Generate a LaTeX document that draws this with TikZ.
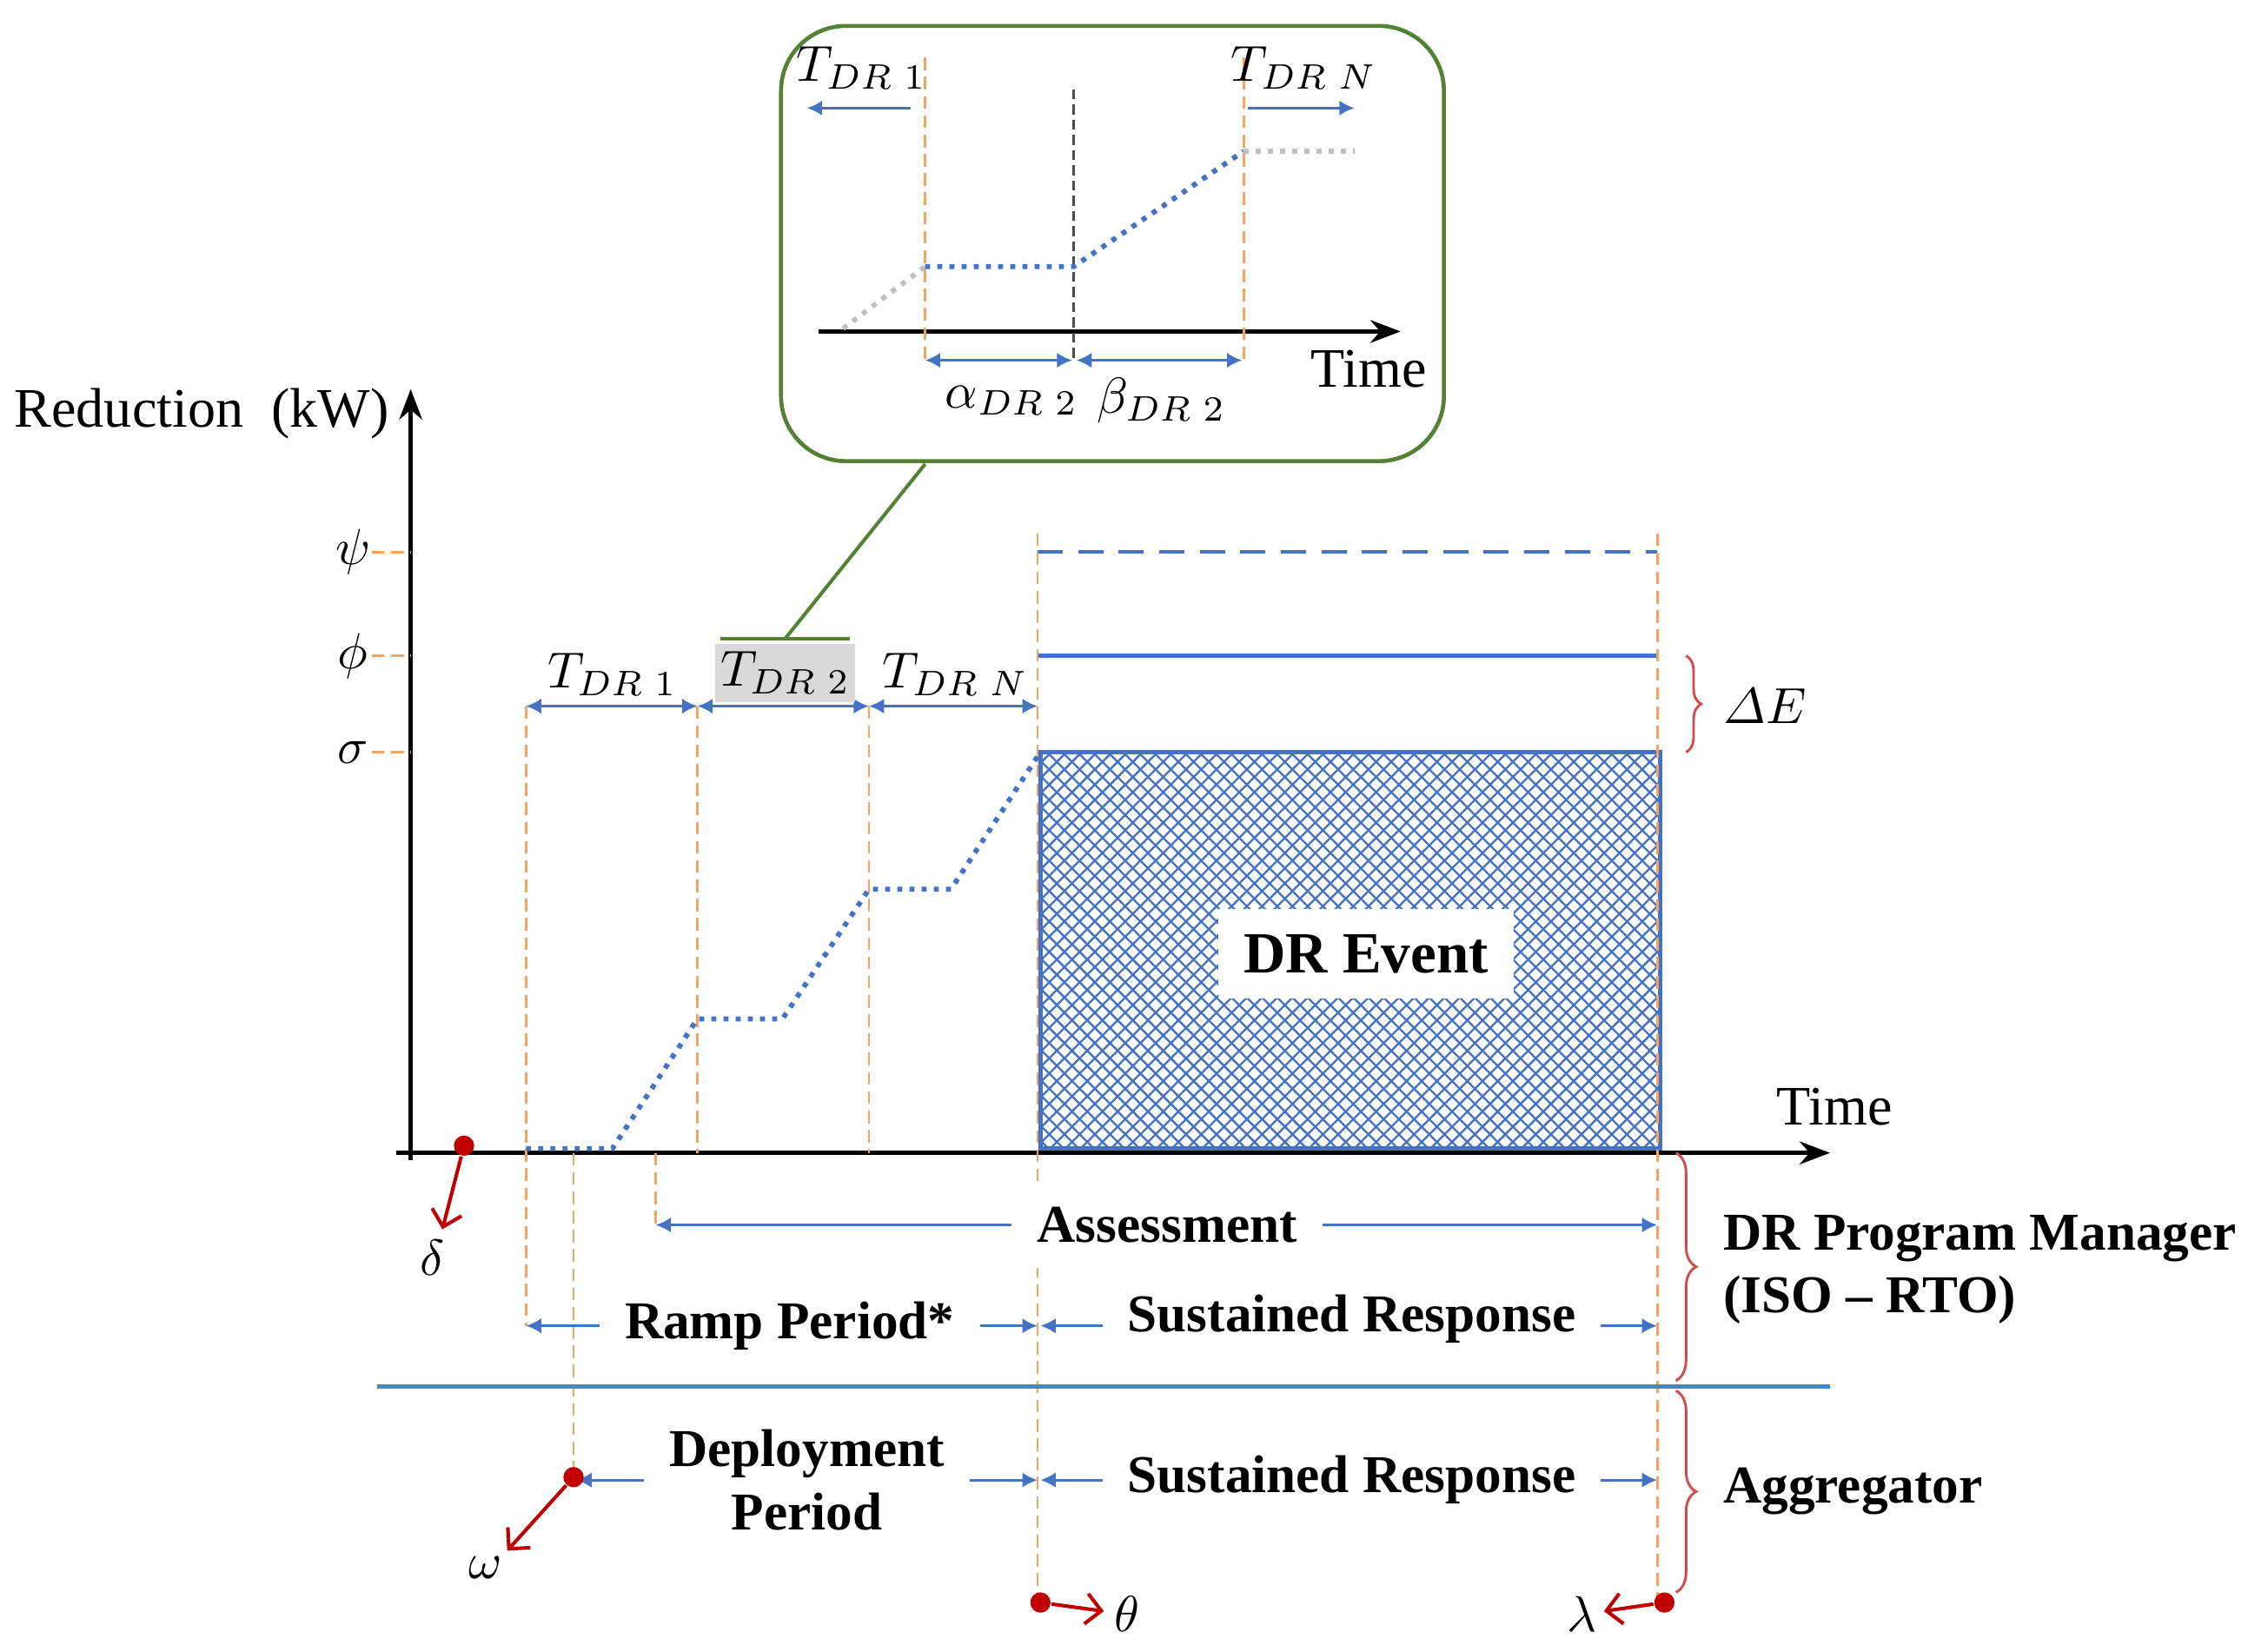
\documentclass[tikz,border=0pt]{standalone}
\usepackage{amsmath}
\usepackage{fontspec}
\setmainfont{Liberation Serif}
\usetikzlibrary{arrows.meta,patterns,decorations.pathreplacing}
\definecolor{bl}{HTML}{4472C4}
\definecolor{dr}{HTML}{C00000}
\definecolor{og}{HTML}{F4A460}
\definecolor{gr}{HTML}{548235}
\tikzset{
 ax/.style={line width=0.9pt,-{Stealth[length=6pt,width=4.5pt]}},
 od/.style={og,line width=0.5pt,dash pattern=on 2.5pt off 1.3pt},
 dim/.style={bl,line width=0.5pt,{Latex[length=3pt,width=3pt]}-{Latex[length=3pt,width=3pt]}},
 ra/.style={bl,line width=0.5pt,-{Latex[length=3pt,width=3pt]}},
 rd/.style={dr,line width=0.7pt,-{Straight Barb[length=3pt]}},
 dot/.style={circle,fill=dr,inner sep=0pt,minimum size=4pt},
 bt/.style={font=\fontsize{10.5}{12.5}\selectfont\bfseries,fill=white,inner sep=1.5pt,align=center},
 mt/.style={font=\fontsize{10}{12}\selectfont,inner sep=1pt},
 bdot/.style={bl,line width=1pt,dash pattern=on 1pt off 1.4pt},
 gdot/.style={gray!50,line width=1pt,dash pattern=on 1pt off 1.4pt},
}
\begin{document}
\begin{tikzpicture}[x=0.01cm,y=-0.01cm]
\useasboundingbox (0,0) rectangle (1560,1146);
% main axes
\draw[ax] (285,805) -- (285,270);
\draw[ax] (275,800) -- (1270,800);
\node[mt,font=\fontsize{11}{13}\selectfont] (yl) at (140,287) {Reduction\ \ (kW)};
\node[mt,font=\fontsize{11}{13}\selectfont] (tx) at (1273,768) {Time};
% ticks
\foreach \y/\n/\l in {383/psi/\psi,455/phi/\phi,522/sig/\sigma}{
 \draw[od] (258,\y) -- (285,\y);
 \node[mt] (\n) at (245,\y) {$\l$};
}
% hatched event
\draw[bl,line width=0.8pt,pattern=crosshatch,pattern color=bl] (722,522) rectangle (1152,797);
\node[bt,font=\fontsize{11.5}{13}\selectfont\bfseries,inner sep=5pt] (ev) at (948,662) {DR Event};
\draw[bl,line width=0.8pt,dash pattern=on 5pt off 3pt] (720,383) -- (1150,383);
\draw[bl,line width=0.8pt] (720,455) -- (1150,455);
% verticals
\draw[od] (365,490) -- (365,920);
\draw[od] (484,490) -- (484,800);
\draw[od] (603,490) -- (603,800);
\draw[od] (720,370) -- (720,1110);
\draw[od] (1150,370) -- (1150,1110);
\draw[od] (398,800) -- (398,1025);
\draw[od] (455,800) -- (455,850);
% ramp
\draw[bdot] (365,797)--(425,797)--(484,707)--(543,707)--(603,617)--(660,617)--(720,525);
% T arrows
\coordinate (a1) at (365,490); \coordinate (a2) at (484,490);
\coordinate (a3) at (603,490); \coordinate (a4) at (720,490);
\draw[dim] (a1)--(a2); \draw[dim] (a2)--(a3); \draw[dim] (a3)--(a4);
\node[mt] (t1) at (425,468) {$T_{DR\ 1}$};
\node[mt,fill=gray!30,minimum width=0.85cm,minimum height=0.4cm] (t2) at (545,467) {$T_{DR\ 2}$};
\node[mt] (tn) at (663,468) {$T_{DR\ N}$};
\draw[gr,line width=0.7pt] (500,443) -- (590,443);
\coordinate (g0) at (545,443);
\coordinate (g1) at (642,322);
\draw[gr,line width=0.7pt] (g0) -- (g1);
% brace dE
\draw[dr!70,line width=0.5pt,decorate,decoration={brace,amplitude=3pt}] (1170,455) -- (1170,522);
\node[mt] (de) at (1225,490) {$\varDelta E$};
% delta
\node[dot] (dd) at (322,795) {};
\coordinate (de1) at (307,853);
\draw[rd] (dd) -- (de1);
\node[mt] (dl) at (300,873) {$\delta$};
% assessment
\coordinate (as1) at (455,850); \coordinate (as2) at (1150,850);
\draw[dim] (as1) -- (as2);
\node[bt,inner sep=5pt] (as) at (810,850) {Assessment};
% ramp period
\coordinate (r1) at (365,920); \coordinate (r2) at (720,920);
\draw[dim] (r1) -- (r2);
\node[bt,inner sep=5pt] (rp) at (548,920) {Ramp Period*};
\coordinate (s1) at (722,920); \coordinate (s2) at (1150,920);
\draw[dim] (s1) -- (s2);
\node[bt,inner sep=5pt] (sr) at (938,915) {Sustained Response};
% separator
\draw[bl!80!cyan,line width=0.8pt] (262,962) -- (1270,962);
% braces
\draw[dr!70,line width=0.5pt,decorate,decoration={brace,amplitude=4pt}] (1163,800) -- (1163,958);
\node[bt,anchor=west,align=left,fill=none] (pm) at (1190,881) {DR Program Manager\\(ISO -- RTO)};
\draw[dr!70,line width=0.5pt,decorate,decoration={brace,amplitude=4pt}] (1163,965) -- (1163,1105);
\node[bt,anchor=west,fill=none] (ag) at (1190,1035) {Aggregator};
% deployment
\coordinate (d1) at (400,1027); \coordinate (d2) at (720,1027);
\draw[dim] (d1) -- (d2);
\node[bt,inner sep=5pt] (dp) at (560,1027) {Deployment\\Period};
\coordinate (s3) at (722,1027); \coordinate (s4) at (1150,1027);
\draw[dim] (s3) -- (s4);
\node[bt,inner sep=5pt] (sr2) at (938,1027) {Sustained Response};
% omega etc
\node[dot] (od1) at (398,1025) {};
\coordinate (oe) at (352,1076);
\draw[rd] (od1) -- (oe);
\node[mt] (ol) at (337,1088) {$\omega$};
\node[dot] (th) at (722,1112) {};
\coordinate (the) at (766,1118);
\draw[rd] (th) -- (the);
\node[mt] (thl) at (782,1120) {$\theta$};
\node[dot] (lm) at (1155,1112) {};
\coordinate (lme) at (1113,1118);
\draw[rd] (lm) -- (lme);
\node[mt] (lml) at (1098,1120) {$\lambda$};
% callout
\draw[gr,line width=0.8pt,rounded corners=0.45cm] (542,18) rectangle (1002,320);
\draw[ax,line width=0.8pt] (568,230) -- (972,230);
\node[mt,font=\fontsize{11}{13}\selectfont] (tx2) at (950,256) {Time};
\draw[od] (642,40) -- (642,250);
\draw[od] (863,40) -- (863,250);
\draw[black!70,line width=0.4pt,dash pattern=on 2pt off 1pt] (745,62) -- (745,250);
\draw[gdot] (585,228) -- (642,185);
\draw[bdot] (642,185) -- (745,185) -- (863,105);
\draw[gdot] (863,105) -- (940,105);
\coordinate (c1) at (632,75); \coordinate (c2) at (560,75);
\draw[ra] (c1) -- (c2);
\node[mt] (ct1) at (598,47) {$T_{DR\ 1}$};
\coordinate (c3) at (866,75); \coordinate (c4) at (940,75);
\draw[ra] (c3) -- (c4);
\node[mt] (ctn) at (905,47) {$T_{DR\ N}$};
\coordinate (e1) at (642,250); \coordinate (e2) at (744,250); \coordinate (e3) at (747,250); \coordinate (e4) at (862,250);
\draw[dim] (e1) -- (e2); \draw[dim] (e3) -- (e4);
\node[mt] (al) at (702,278) {$\alpha_{DR\ 2}$};
\node[mt] (be) at (806,278) {$\beta_{DR\ 2}$};
\end{tikzpicture}
\end{document}
